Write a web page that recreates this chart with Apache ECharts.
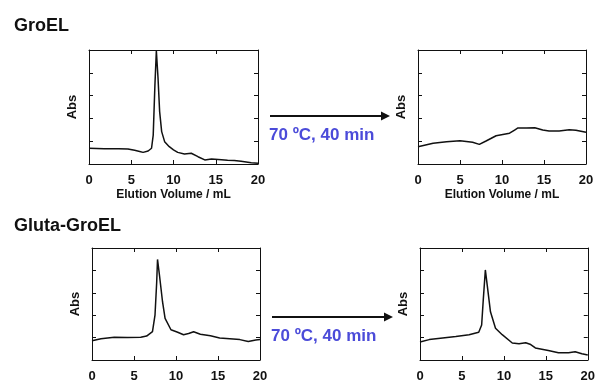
<!DOCTYPE html>
<html>
<head>
<meta charset="utf-8">
<script src="https://cdn.jsdelivr.net/npm/echarts@6/dist/echarts.min.js"></script>
<style>
  html, body { margin: 0; padding: 0; background: #fff; }
  #chart { width: 598px; height: 383px; }
</style>
</head>
<body>
<div id="chart"></div>
<script>
// axis ticks
const volumeTicks = [0, 5, 10, 15, 20];
const absTicks = [0, 1, 2, 3, 4, 5];

// texts
const rowTitles = ['GroEL', 'Gluta-GroEL'];
const treatmentLabel = '70 \u00baC, 40 min';
const volumeName = 'Elution Volume / mL';
const absName = 'Abs';

// GroEL, before heating
const groelX   = [0, 1.8, 3.5, 4.6, 5.4, 6.0, 6.4, 7.0, 7.4, 7.6, 7.8, 7.97, 8.17, 8.36, 8.6, 8.95, 9.5, 10.0, 10.5, 11.3, 12.1, 12.9, 13.7, 14.5, 15.3, 16.4, 17.2, 18.0, 19.2, 20];
const groelAbs = [0.69, 0.67, 0.67, 0.66, 0.6, 0.55, 0.51, 0.57, 0.69, 1.27, 3.46, 4.96, 3.76, 2.3, 1.42, 0.98, 0.76, 0.62, 0.51, 0.44, 0.47, 0.32, 0.18, 0.22, 0.2, 0.16, 0.15, 0.12, 0.06, 0.03];

// GroEL, after 70 C 40 min
const groelHeatX   = [0, 1.8, 3.4, 5.0, 6.5, 7.3, 8.1, 9.3, 10.9, 11.5, 11.9, 12.9, 13.9, 14.85, 15.6, 16.8, 18.0, 18.8, 20];
const groelHeatAbs = [0.76, 0.91, 0.98, 1.02, 0.95, 0.86, 1.01, 1.24, 1.35, 1.49, 1.58, 1.58, 1.59, 1.49, 1.45, 1.45, 1.5, 1.48, 1.39];

// Gluta-GroEL, before heating
const glutaX   = [0, 1.07, 2.65, 4.2, 5.8, 6.5, 7.2, 7.5, 7.7, 7.8, 8.04, 8.4, 8.7, 9.4, 10.2, 10.9, 11.5, 12.1, 12.9, 14.1, 15.2, 16.4, 17.6, 18.6, 19.5, 20];
const glutaAbs = [0.86, 0.95, 1.02, 1.01, 1.02, 1.07, 1.27, 2.0, 3.46, 4.49, 3.76, 2.59, 1.86, 1.35, 1.24, 1.13, 1.18, 1.26, 1.15, 1.08, 0.98, 0.95, 0.91, 0.83, 0.89, 0.91];

// Gluta-GroEL, after 70 C 40 min
const glutaHeatX   = [0, 1.1, 2.7, 4.27, 5.85, 7.0, 7.35, 7.55, 7.79, 8.02, 8.4, 9.0, 9.8, 11.0, 11.8, 12.6, 13.2, 13.75, 15.3, 16.5, 17.7, 18.5, 19.3, 20];
const glutaHeatAbs = [0.8, 0.91, 0.98, 1.05, 1.13, 1.24, 1.56, 2.73, 4.02, 3.32, 2.15, 1.42, 1.13, 0.76, 0.73, 0.77, 0.69, 0.54, 0.42, 0.32, 0.32, 0.37, 0.28, 0.22];

const FONT = 'Liberation Sans, Arial, sans-serif';
const INK = '#111';

const panels = [
  { grid: { left: 89, top: 50, width: 169, height: 114 }, xs: groelX, ys: groelAbs, xName: true },
  { grid: { left: 418, top: 50, width: 168, height: 114 }, xs: groelHeatX, ys: groelHeatAbs, xName: true },
  { grid: { left: 92, top: 248, width: 168, height: 114 }, xs: glutaX, ys: glutaAbs, xName: false },
  { grid: { left: 420, top: 248, width: 168, height: 114 }, xs: glutaHeatX, ys: glutaHeatAbs, xName: false }
];

const axisLine = { show: true, onZero: false, lineStyle: { color: INK, width: 1 } };
const tick = { show: true, inside: true, length: 4, lineStyle: { color: INK, width: 1 } };

const xMin = volumeTicks[0], xMax = volumeTicks[volumeTicks.length - 1], xStep = volumeTicks[1] - volumeTicks[0];
const yMin = absTicks[0], yMax = absTicks[absTicks.length - 1], yStep = absTicks[1] - absTicks[0];

const grid = [], xAxis = [], yAxis = [], series = [];
panels.forEach((p, i) => {
  grid.push(Object.assign({ containLabel: false }, p.grid));
  xAxis.push({
    type: 'value', gridIndex: i, position: 'bottom', min: xMin, max: xMax, interval: xStep,
    axisLine, axisTick: tick, splitLine: { show: false },
    axisLabel: { color: INK, fontFamily: FONT, fontWeight: 'bold', fontSize: 13, margin: 10 },
    name: p.xName ? volumeName : '', nameLocation: 'middle', nameGap: 25,
    nameTextStyle: { color: INK, fontFamily: FONT, fontWeight: 'bold', fontSize: 12 }
  });
  xAxis.push({
    type: 'value', gridIndex: i, position: 'top', min: xMin, max: xMax, interval: xStep,
    axisLine, axisTick: tick, splitLine: { show: false }, axisLabel: { show: false }
  });
  yAxis.push({
    type: 'value', gridIndex: i, position: 'left', min: yMin, max: yMax, interval: yStep,
    axisLine, axisTick: tick, splitLine: { show: false }, axisLabel: { show: false },
    name: absName, nameLocation: 'middle', nameRotate: 90, nameGap: 10,
    nameTextStyle: { color: INK, fontFamily: FONT, fontWeight: 'bold', fontSize: 13 }
  });
  yAxis.push({
    type: 'value', gridIndex: i, position: 'right', min: yMin, max: yMax, interval: yStep,
    axisLine, axisTick: tick, splitLine: { show: false }, axisLabel: { show: false }
  });
  series.push({
    type: 'line', xAxisIndex: 2 * i, yAxisIndex: 2 * i,
    data: p.xs.map((x, k) => [x, p.ys[k]]),
    showSymbol: false, smooth: false,
    lineStyle: { color: INK, width: 1.5 },
    animation: false
  });
});

function arrow(x0, x1, y) {
  return {
    type: 'group',
    children: [
      { type: 'line', shape: { x1: x0, y1: y, x2: x1 - 8, y2: y }, style: { stroke: INK, lineWidth: 2 } },
      { type: 'polygon', shape: { points: [[x1 - 9, y - 4.5], [x1, y], [x1 - 9, y + 4.5]] }, style: { fill: INK } }
    ]
  };
}

function treatment(x, y) {
  return {
    type: 'text', left: x, top: y,
    style: { text: treatmentLabel, fill: '#4b4bd9', font: 'bold 17px ' + FONT }
  };
}

const chart = echarts.init(document.getElementById('chart'), null, { renderer: 'canvas' });
chart.setOption({
  animation: false,
  backgroundColor: '#fff',
  title: [
    { text: rowTitles[0], left: 9, top: 12, textStyle: { color: INK, fontFamily: FONT, fontWeight: 'bold', fontSize: 18 } },
    { text: rowTitles[1], left: 9, top: 212, textStyle: { color: INK, fontFamily: FONT, fontWeight: 'bold', fontSize: 18 } }
  ],
  grid, xAxis, yAxis, series,
  graphic: [
    arrow(270, 390, 116),
    treatment(269, 127),
    arrow(272, 393, 317),
    treatment(271, 328)
  ]
});
</script>
</body>
</html>
